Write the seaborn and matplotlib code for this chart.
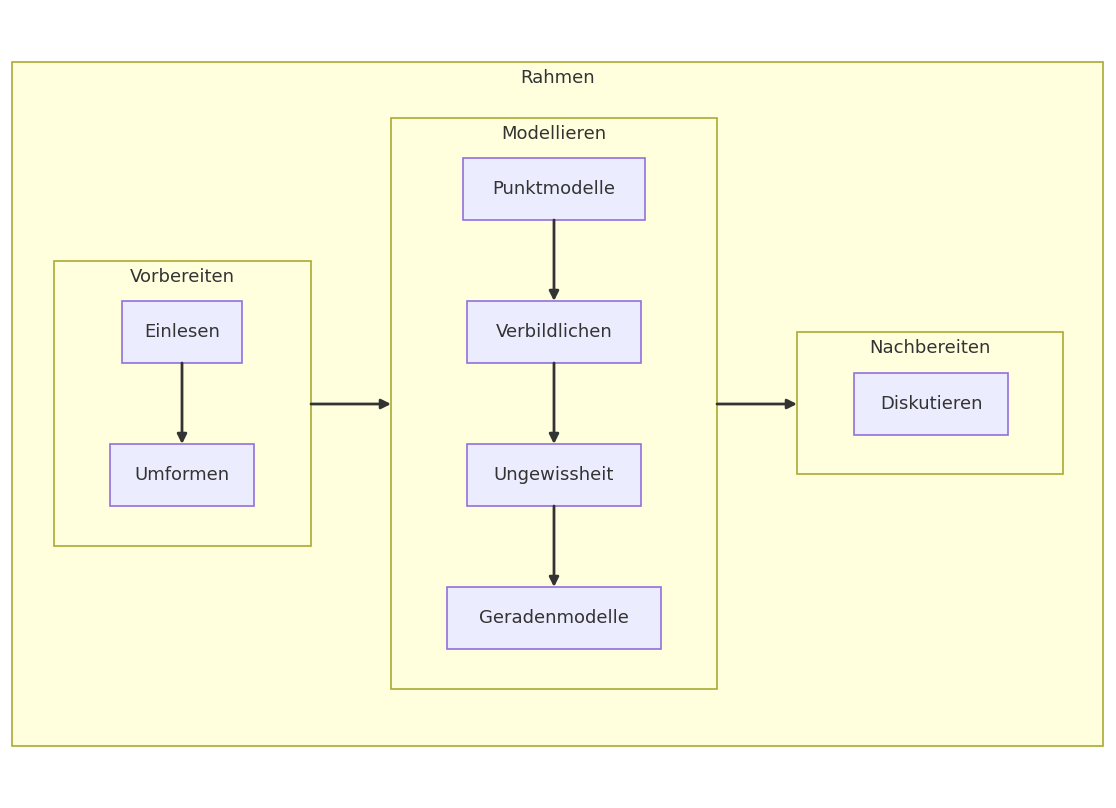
import matplotlib
matplotlib.use("Agg")
import matplotlib.pyplot as plt
from matplotlib.patches import Rectangle
import seaborn as sns

sns.set_style("white")
plt.rcParams['font.family'] = ['DejaVu Sans']

# clusters: name, left, top, right, bottom (pixels)
cluster_names = ["Rahmen", "Vorbereiten", "Modellieren", "Nachbereiten"]
cluster_boxes = [(12, 62, 1103, 746), (54, 261, 311, 546),
                 (391, 118, 717, 689), (797, 332, 1063, 474)]

node_names = ["Einlesen", "Umformen", "Punktmodelle", "Verbildlichen",
              "Ungewissheit", "Geradenmodelle", "Diskutieren"]
node_boxes = [(122, 301, 242, 363), (110, 444, 254, 506),
              (463, 158, 645, 220), (467, 301, 641, 363),
              (467, 444, 641, 506), (447, 587, 661, 649),
              (854, 373, 1008, 435)]

edges = [("Einlesen", "Umformen"), ("Punktmodelle", "Verbildlichen"),
         ("Verbildlichen", "Ungewissheit"), ("Ungewissheit", "Geradenmodelle")]
cluster_edges = [("Vorbereiten", "Modellieren"), ("Modellieren", "Nachbereiten")]

fig = plt.figure(figsize=(11.16, 8.08), dpi=100)
ax = fig.add_axes([0, 0, 1, 1])
ax.set_xlim(0, 1116)
ax.set_ylim(808, 0)
ax.axis("off")

for name, (l, t, r, b) in zip(cluster_names, cluster_boxes):
    ax.add_patch(Rectangle((l, t), r - l, b - t, facecolor="#ffffde",
                           edgecolor="#aaaa33", lw=1.2))
    ax.text((l + r) / 2, t + 16, name, ha="center", va="center",
            fontsize=13, color="#333333")

nodes = dict(zip(node_names, node_boxes))
for name, (l, t, r, b) in nodes.items():
    ax.add_patch(Rectangle((l, t), r - l, b - t, facecolor="#ECECFF",
                           edgecolor="#9370DB", lw=1.2))
    ax.text((l + r) / 2, (t + b) / 2, name, ha="center", va="center",
            fontsize=13, color="#333333")

arrow = dict(arrowstyle="-|>", color="#333333", lw=2, mutation_scale=14,
             shrinkA=0, shrinkB=0)
for a, b in edges:
    la, ta, ra, ba = nodes[a]
    lb, tb, rb, bb = nodes[b]
    x = (la + ra) / 2
    ax.annotate("", xy=(x, tb), xytext=(x, ba), arrowprops=arrow)

clusters = dict(zip(cluster_names, cluster_boxes))
for a, b in cluster_edges:
    y = 404
    ax.annotate("", xy=(clusters[b][0], y), xytext=(clusters[a][2], y),
                arrowprops=arrow)

fig.savefig("out.png", dpi=100, facecolor="white")
